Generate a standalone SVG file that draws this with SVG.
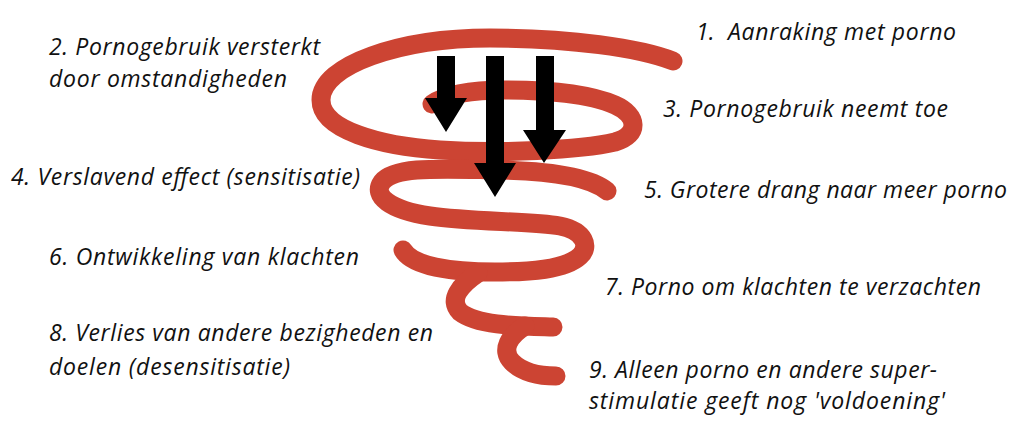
<svg xmlns="http://www.w3.org/2000/svg" width="1024" height="430" viewBox="0 0 1024 430">
<style>
.bg{fill:#ffffff}
.coil{fill:none;stroke:#cc4433;stroke-width:19;stroke-linecap:round;stroke-linejoin:round}
.arrow{fill:#000000}
.lbl{font-family:"Open Sans","Noto Sans","DejaVu Sans",sans-serif;font-style:italic;font-size:23px;fill:#111111}
</style>
<rect class="bg" x="0" y="0" width="1024" height="430"/>
<g id="spiral">
<path class="coil" d="M673,61 C640,48 570,38 490,38 C400,38 321,65 321,100 C321,130 380,146 440,150 C500,154 580,150 615,142 C640,135 638,115 615,105 C590,94 545,90 505,90 C470,90 445,95 432,104"/>
<path class="coil" d="M607,191 C590,177 550,171 500,170 C440,169 395,166 382,182 C372,196 390,210 430,216 C470,222 530,221 560,226 C585,231 590,247 580,256 C565,270 530,272 495,272 C450,272 412,266 403,250"/>
<path class="coil" d="M478,273 C460,285 448,300 460,312 C478,326 520,326 553,327"/>
<path class="coil" d="M525,326 C510,335 500,350 512,362 C525,375 545,376 556,376"/>
</g>
<g id="connectors">
<polygon class="arrow" points="437,56 455,56 455,98 467,98 446,132 425,98 437,98"/>
<polygon class="arrow" points="486,56 504,56 504,163 516,163 495,197 474,163 486,163"/>
<polygon class="arrow" points="536,56 554,56 554,130 566,130 544,163 523,130 536,130"/>
</g>
<g id="node1"><text class="lbl" x="696" y="40">1.</text><text class="lbl" x="728" y="40" textLength="228">Aanraking met porno</text></g>
<g id="node2"><text class="lbl" x="49" y="55" textLength="271">2. Pornogebruik versterkt</text><text class="lbl" x="49" y="87" textLength="238">door omstandigheden</text></g>
<g id="node3"><text class="lbl" x="663" y="117" textLength="285">3. Pornogebruik neemt toe</text></g>
<g id="node4"><text class="lbl" x="11" y="185" textLength="349">4. Verslavend effect (sensitisatie)</text></g>
<g id="node5"><text class="lbl" x="644" y="198" textLength="363">5. Grotere drang naar meer porno</text></g>
<g id="node6"><text class="lbl" x="49" y="265" textLength="310">6. Ontwikkeling van klachten</text></g>
<g id="node7"><text class="lbl" x="605" y="295" textLength="376">7. Porno om klachten te verzachten</text></g>
<g id="node8"><text class="lbl" x="49" y="341" textLength="384">8. Verlies van andere bezigheden en</text><text class="lbl" x="49" y="375" textLength="241">doelen (desensitisatie)</text></g>
<g id="node9"><text class="lbl" x="589" y="378" textLength="348">9. Alleen porno en andere super-</text><text class="lbl" x="589" y="409" textLength="356">stimulatie geeft nog 'voldoening'</text></g>
</svg>
